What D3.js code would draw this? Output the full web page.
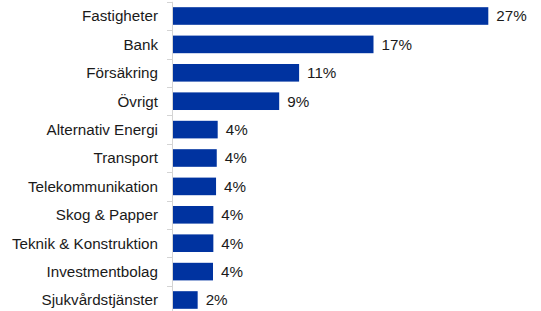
<!DOCTYPE html>
<html>
<head>
<meta charset="utf-8">
<script src="https://cdn.jsdelivr.net/npm/d3@7"></script>
<style>
  body { margin: 0; background: #fff; }
  svg { display: block; font-family: Arial, "Liberation Sans", sans-serif; }
</style>
</head>
<body>
<svg id="chart"></svg>
<script>
// Sector weights (%)
const sectors = ["Fastigheter", "Bank", "Försäkring", "Övrigt", "Alternativ Energi", "Transport",
  "Telekommunikation", "Skog & Papper", "Teknik & Konstruktion", "Investmentbolag", "Sjukvårdstjänster"];
const weights = [27.0, 17.2, 10.85, 9.15, 3.9, 3.82, 3.76, 3.53, 3.53, 3.5, 2.19];
const valueLabels = ["27%", "17%", "11%", "9%", "4%", "4%", "4%", "4%", "4%", "4%", "2%"];

const width = 541, height = 311;

const svg = d3.select("#chart")
  .attr("width", width)
  .attr("height", height);

const dataset = sectors.map((s, i) => ({ name: s, value: weights[i], label: valueLabels[i] }));

const xScale = d3.scaleLinear()
  .domain([0, 27])
  .range([172, 488.3]);

const yScale = d3.scaleBand()
  .domain(sectors)
  .range([1.8, 314.2])
  .paddingInner(0.38)
  .paddingOuter(0.19);

const step = yScale.step();
const y0 = yScale.range()[0];

// Category axis line and ticks between categories
const axis = svg.append("g");
axis.append("line")
  .attr("x1", xScale(0) + 0.5).attr("x2", xScale(0) + 0.5)
  .attr("y1", y0).attr("y2", height)
  .attr("stroke", "#d4d4d4");
axis.selectAll(".tick")
  .data(d3.range(sectors.length + 1))
  .enter().append("line")
  .attr("x1", xScale(0) - 5).attr("x2", xScale(0))
  .attr("y1", i => Math.round(y0 + i * step) + 0.5)
  .attr("y2", i => Math.round(y0 + i * step) + 0.5)
  .attr("stroke", "#d4d4d4");

// Category labels
svg.selectAll(".cat")
  .data(dataset)
  .enter().append("text")
  .attr("x", 158)
  .attr("y", d => yScale(d.name) + yScale.bandwidth() / 2)
  .attr("dy", "0.35em")
  .attr("text-anchor", "end")
  .attr("font-size", "15.2px")
  .attr("fill", "#1a1a1a")
  .text(d => d.name);

// Bars
svg.selectAll(".bar")
  .data(dataset)
  .enter().append("rect")
  .attr("x", xScale(0) + 1)
  .attr("y", d => yScale(d.name))
  .attr("width", d => xScale(d.value) - xScale(0) - 1)
  .attr("height", yScale.bandwidth())
  .attr("fill", "#0033a0");

// Value labels
svg.selectAll(".val")
  .data(dataset)
  .enter().append("text")
  .attr("x", d => xScale(d.value) + 8)
  .attr("y", d => yScale(d.name) + yScale.bandwidth() / 2)
  .attr("dy", "0.35em")
  .attr("font-size", "15.2px")
  .attr("fill", "#1a1a1a")
  .text(d => d.label);
</script>
</body>
</html>
